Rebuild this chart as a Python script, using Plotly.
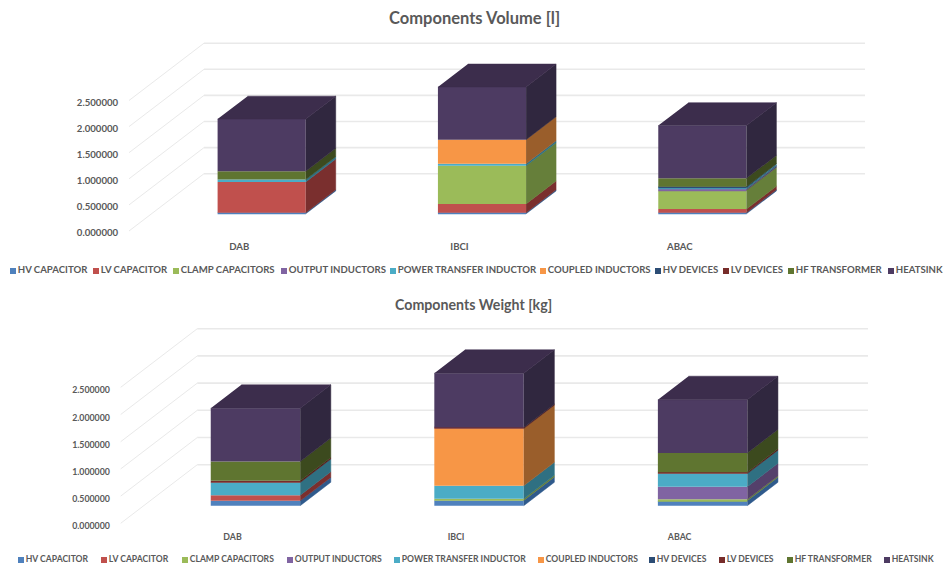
import plotly.graph_objects as go

categories = ["DAB", "IBCI", "ABAC"]
series_names = ["HV CAPACITOR", "LV CAPACITOR", "CLAMP CAPACITORS", "OUTPUT INDUCTORS",
                "POWER TRANSFER INDUCTOR", "COUPLED INDUCTORS", "HV DEVICES", "LV DEVICES",
                "HF TRANSFORMER", "HEATSINK"]
y_ticks = [0.0, 0.5, 1.0, 1.5, 2.0, 2.5]

# one list per component: DAB, IBCI, ABAC
vol_hv_cap = [0.02, 0.02, 0.02]
vol_lv_cap = [0.59, 0.17, 0.07]
vol_clamp = [0.0, 0.73, 0.36]
vol_output = [0.0, 0.0, 0.025]
vol_power = [0.045, 0.04, 0.03]
vol_coupled = [0.0, 0.46, 0.0]
vol_hv_dev = [0.0, 0.0, 0.015]
vol_lv_dev = [0.0, 0.0, 0.0]
vol_hf = [0.16, 0.0, 0.16]
vol_heatsink = [1.0, 1.01, 1.01]

wgt_hv_cap = [0.09, 0.098, 0.092]
wgt_lv_cap = [0.104, 0.0, 0.0]
wgt_clamp = [0.0, 0.03, 0.025]
wgt_output = [0.0, 0.0, 0.233]
wgt_power = [0.233, 0.24, 0.24]
wgt_coupled = [0.0, 1.05, 0.0]
wgt_hv_dev = [0.0, 0.0, 0.0]
wgt_lv_dev = [0.03, 0.018, 0.025]
wgt_hf = [0.355, 0.0, 0.355]
wgt_heatsink = [0.98, 1.0, 0.98]

volume = [vol_hv_cap, vol_lv_cap, vol_clamp, vol_output, vol_power,
          vol_coupled, vol_hv_dev, vol_lv_dev, vol_hf, vol_heatsink]
weight = [wgt_hv_cap, wgt_lv_cap, wgt_clamp, wgt_output, wgt_power,
          wgt_coupled, wgt_hv_dev, wgt_lv_dev, wgt_hf, wgt_heatsink]

front = ["#4F81BD", "#C0504D", "#9BBB59", "#8064A2", "#4BACC6",
         "#F79646", "#2C4D75", "#772C2A", "#5F7530", "#4D3B62"]
side = ["#2F5A8C", "#7A2F2E", "#667F3A", "#54406B", "#2F7082",
        "#9A5E2B", "#1D3554", "#521D1C", "#3C4A1E", "#30273F"]
TOP_COLOR = "#3C2D4C"
TEXT = "#595959"
GRID = "#E9E9E9"
FONT = "Lato"
W, H = 943, 565
BAR_W = 0.4
D0, D1 = 0.3, 0.7  # bar position inside the depth of the floor
PAD = 2  # px of breathing room round the plot area


def add_chart(fig, data, suffix, left, right, base_px, unit_px, depth_x_px, depth_y_px,
              tick_size, x_len, y_len, y_shift):
    xa, ya = "x" + suffix, "y" + suffix
    cat_px = (right - left) / 3
    dx = depth_x_px / cat_px
    dy = depth_y_px / unit_px
    top = y_ticks[-1] + dy
    x_lo, x_hi = -0.5 - PAD / cat_px, 2.5 + dx + PAD / cat_px
    y_lo, y_hi = -PAD / unit_px, top + PAD / unit_px
    x0_px = left - PAD
    x1_px = right + depth_x_px + PAD
    y0_px = base_px + PAD
    y1_px = base_px - top * unit_px - PAD

    # wall and floor grid
    shapes = []
    for t in y_ticks:
        line = dict(type="line", xref=xa, yref=ya, layer="below")
        shapes.append(dict(line, x0=-0.5, y0=t, x1=-0.5 + dx, y1=t + dy,
                           line=dict(color=GRID, width=1)))
        shapes.append(dict(line, x0=-0.5 + dx, y0=t + dy, x1=2.5 + dx, y1=t + dy,
                           line=dict(color=GRID, width=1.6)))

    pos = [i + D0 * dx for i in range(len(categories))]
    cum = [D0 * dy] * len(categories)
    for s, name in enumerate(series_names):
        vals = data[s]
        fig.add_trace(go.Bar(x=pos, y=vals, base=cum, width=BAR_W, name=name,
                             marker=dict(color=front[s], line=dict(width=0)),
                             showlegend=False, xaxis=xa, yaxis=ya))
        px_, py_ = [], []
        d = (D1 - D0)
        for i, v in enumerate(vals):
            if v <= 0:
                continue
            xr = pos[i] + BAR_W / 2
            b, t = cum[i], cum[i] + v
            px_ += [xr, xr + d * dx, xr + d * dx, xr, None]
            py_ += [b, b + d * dy, t + d * dy, t, None]
        if px_:
            fig.add_trace(go.Scatter(x=px_, y=py_, mode="lines", fill="toself", fillcolor=side[s],
                                     line=dict(width=0.5, color=side[s]), hoverinfo="skip",
                                     showlegend=False, xaxis=xa, yaxis=ya))
        cum = [c + v for c, v in zip(cum, vals)]
    # roof of every stack
    d = D1 - D0
    rx, ry = [], []
    for i, t in enumerate(cum):
        xl, xr = pos[i] - BAR_W / 2, pos[i] + BAR_W / 2
        rx += [xl, xr, xr + d * dx, xl + d * dx, None]
        ry += [t, t, t + d * dy, t + d * dy, None]
    fig.add_trace(go.Scatter(x=rx, y=ry, mode="lines", fill="toself", fillcolor=TOP_COLOR,
                             line=dict(width=0.5, color=TOP_COLOR), hoverinfo="skip",
                             showlegend=False, xaxis=xa, yaxis=ya))

    tick_font = dict(family=FONT, size=tick_size, color=TEXT, weight=700)
    ax_x = dict(domain=[x0_px / W, x1_px / W], range=[x_lo, x_hi], anchor=ya,
                tickmode="array", tickvals=list(range(3)), ticktext=categories,
                showgrid=False, zeroline=False, showline=False, ticks="outside",
                ticklen=x_len, tickcolor="rgba(0,0,0,0)", tickfont=tick_font)
    ax_y = dict(domain=[1 - y0_px / H, 1 - y1_px / H], range=[y_lo, y_hi], anchor=xa,
                tickmode="array", tickvals=y_ticks, ticktext=[f"{t:.6f}" for t in y_ticks],
                showgrid=False, zeroline=False, showline=False, ticks="outside",
                ticklen=y_len, tickcolor="rgba(0,0,0,0)", tickfont=tick_font,
                ticklabelshift=y_shift)
    return shapes, ax_x, ax_y


fig = go.Figure()
s1, x1, y1 = add_chart(fig, volume, "", 129, 790, 231, 52.2, 75, 57.3, 9.6, 4, 6, 2)
s2, x2, y2 = add_chart(fig, weight, "2", 120.7, 791.4, 523.3, 54.4, 76.6, 58.6, 8.8, 3, 6, 3)

# hand-placed legend rows on a full-page overlay axis
legend_rows = [
    ([13, 96, 176, 284, 393, 543, 658, 726, 791, 891], 271, 9.6),
    ([21, 104, 185, 290, 397, 541, 652, 722, 790, 887], 560, 8.6),
]
for xs, y, sz in legend_rows:
    fig.add_trace(go.Scatter(x=xs, y=[y] * len(xs), mode="markers+text", text=series_names,
                             textposition="middle right",
                             textfont=dict(family=FONT, size=sz, color=TEXT, weight=700),
                             marker=dict(symbol="square", size=6, color=front, line=dict(width=0)),
                             hoverinfo="skip", showlegend=False, xaxis="x3", yaxis="y3",
                             cliponaxis=False))

hidden = dict(visible=False, showgrid=False, zeroline=False, fixedrange=True)
titles = [("Components Volume [l]", 474, 18, 16.5), ("Components Weight [kg]", 473.5, 304, 14.2)]
fig.update_layout(
    width=W, height=H, margin=dict(l=0, r=0, t=0, b=0, autoexpand=False),
    paper_bgcolor="white", plot_bgcolor="rgba(0,0,0,0)", showlegend=False,
    barmode="overlay", shapes=s1 + s2,
    xaxis=x1, yaxis=y1, xaxis2=x2, yaxis2=y2,
    xaxis3=dict(hidden, domain=[0, 1], range=[0, W], anchor="y3"),
    yaxis3=dict(hidden, domain=[0, 1], range=[H, 0], anchor="x3"),
    annotations=[dict(text=f"<b>{t}</b>", xref="paper", yref="paper", x=x / W, y=1 - y / H,
                      xanchor="center", yanchor="middle", showarrow=False,
                      font=dict(family=FONT, size=sz, color=TEXT)) for t, x, y, sz in titles],
)
fig.write_html("out.html", config={"displayModeBar": False},
               post_script="document.body.style.margin='0';document.body.style.overflow='hidden';")
